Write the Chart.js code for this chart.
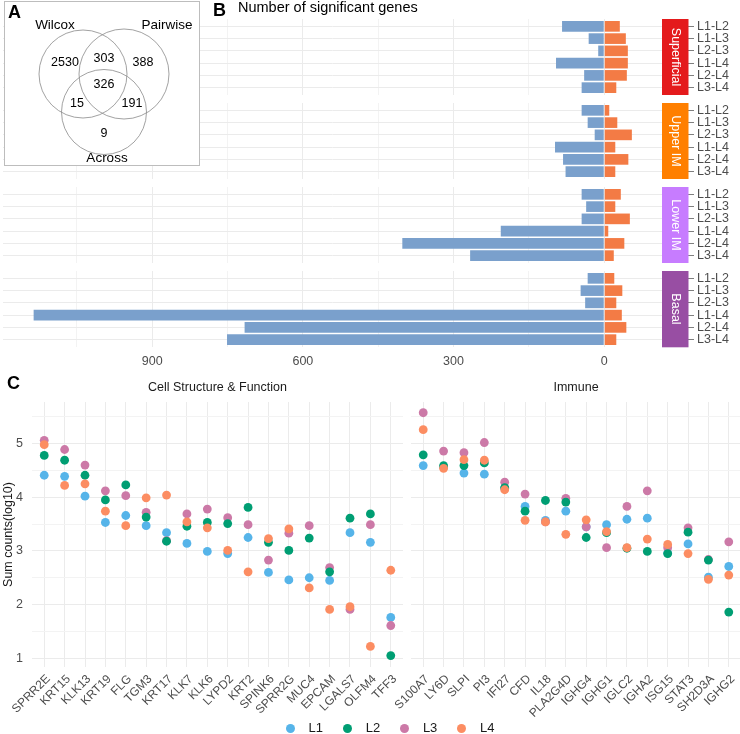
<!DOCTYPE html>
<html>
<head>
<meta charset="utf-8">
<script src="https://cdn.jsdelivr.net/npm/chart.js@4.4.1/dist/chart.umd.min.js"></script>
<style>
html, body { margin: 0; padding: 0; background: #fff; }
#fig { position: relative; width: 740px; height: 734px; overflow: hidden; font-family: "Liberation Sans", Arial, sans-serif; }
#fig canvas { position: absolute; }
.tag { position: absolute; font-weight: bold; font-size: 18px; line-height: 18px; color: #000; }
.ttl { position: absolute; font-size: 14.5px; line-height: 14.5px; color: #000; }
.key { position: absolute; top: 720px; height: 16px; font-size: 13px; line-height: 16px; color: #1a1a1a; white-space: nowrap; }
.key i { display: inline-block; width: 9px; height: 9px; border-radius: 50%; margin-right: 14px; vertical-align: -0.5px; }
</style>
</head>
<body>
<div id="fig">
  <canvas id="facet0"></canvas>
  <canvas id="facet1"></canvas>
  <canvas id="facet2"></canvas>
  <canvas id="facet3"></canvas>
  <canvas id="venn"></canvas>
  <canvas id="dotsCell"></canvas>
  <canvas id="dotsImmune"></canvas>
  <div class="tag" style="left:8px;top:2.5px">A</div>
  <div class="tag" style="left:213px;top:1px">B</div>
  <div class="ttl" style="left:238px;top:0px">Number of significant genes</div>
  <div class="tag" style="left:7px;top:374px">C</div>
  <div id="legend"></div>
</div>
<script>
// ---- data ----
var vennSets = ['Wilcox', 'Pairwise', 'Across'];
var vennCounts = [2530, 303, 388, 326, 15, 191, 9];

var pairs = ['L1-L2', 'L1-L3', 'L2-L3', 'L1-L4', 'L2-L4', 'L3-L4'];
var layers = ['Superficial', 'Upper IM', 'Lower IM', 'Basal'];
var downCounts = [
  [84, 31, 12, 96, 40, 45],
  [45, 33, 19, 98, 82, 77],
  [45, 36, 45, 206, 402, 267],
  [33, 47, 38, 1136, 716, 751]
];
var upCounts = [
  [31, 43, 47, 47, 45, 24],
  [10, 26, 55, 22, 48, 22],
  [33, 22, 51, 8, 40, 19],
  [20, 36, 24, 35, 44, 24]
];

var levels = ['L1', 'L2', 'L3', 'L4'];
var cellGenes = ['SPRR2E', 'KRT15', 'KLK13', 'KRT19', 'FLG', 'TGM3', 'KRT17', 'KLK7', 'KLK6', 'LYPD2',
  'KRT2', 'SPINK6', 'SPRR2G', 'MUC4', 'EPCAM', 'LGALS7', 'OLFM4', 'TFF3'];
var cellL1 = [4.41, 4.39, 4.02, 3.53, 3.66, 3.47, 3.34, 3.14, 2.99, 2.95, 3.25, 2.60, 2.46, 2.50, 2.45, 3.34, 3.16, 1.76];
var cellL2 = [4.78, 4.69, 4.41, 3.95, 4.23, 3.63, 3.18, 3.46, 3.53, 3.51, 3.81, 3.16, 3.01, 3.24, 2.61, 3.61, 3.69, 1.05];
var cellL3 = [5.06, 4.89, 4.60, 4.12, 4.03, 3.72, 3.19, 3.69, 3.78, 3.62, 3.49, 2.83, 3.33, 3.47, 2.69, 1.91, 3.49, 1.61];
var cellL4 = [4.98, 4.22, 4.25, 3.74, 3.47, 3.99, 4.04, 3.54, 3.43, 3.01, 2.61, 3.23, 3.41, 2.31, 1.91, 1.96, 1.22, 2.64];

var immuneGenes = ['S100A7', 'LY6D', 'SLPI', 'PI3', 'IFI27', 'CFD', 'IL18', 'PLA2G4D', 'IGHG4', 'IGHG1',
  'IGLC2', 'IGHA2', 'ISG15', 'STAT3', 'SH2D3A', 'IGHG2'];
var immuneL1 = [4.59, 4.56, 4.45, 4.43, 4.17, 3.83, 3.57, 3.74, 3.45, 3.49, 3.59, 3.61, 2.96, 3.13, 2.51, 2.71];
var immuneL2 = [4.79, 4.59, 4.59, 4.64, 4.18, 3.74, 3.94, 3.91, 3.25, 3.34, 3.05, 2.99, 2.95, 3.35, 2.83, 1.86];
var immuneL3 = [5.575, 4.86, 4.83, 5.02, 4.28, 4.06, 3.54, 3.98, 3.45, 3.06, 3.83, 4.12, 3.06, 3.43, 2.84, 3.17];
var immuneL4 = [5.26, 4.54, 4.70, 4.69, 4.14, 3.57, 3.54, 3.31, 3.58, 3.36, 3.06, 3.22, 3.12, 2.95, 2.47, 2.55];

// ---- style ----
var downColor = '#7AA0CC';
var upColor = '#F37B45';
var stripColors = ['#E41A1C', '#FF7F00', '#C77CFF', '#984EA3'];
var levelColors = ['#56B4E9', '#009E73', '#CC79A7', '#FC8D62'];
var levelOrder = [3, 1, 2, 0];
var gridMajor = '#ebebeb';
var gridMinor = '#f3f3f3';
var textGrey = '#4d4d4d';

Chart.defaults.font.family = '"Liberation Sans", Arial, sans-serif';
Chart.defaults.color = textGrey;
Chart.defaults.animation = false;
Chart.defaults.plugins.legend.display = false;
Chart.defaults.plugins.tooltip.enabled = false;

function fixSize(px) {
  return function (scale) {
    if (scale.isHorizontal()) scale.height = px; else scale.width = px;
    scale.paddingLeft = 0; scale.paddingRight = 0;
    scale.paddingTop = 0; scale.paddingBottom = 0;
  };
}
function setTicks(values) {
  return function (scale) {
    scale.ticks = values.map(function (v) { return { value: v }; });
  };
}
function place(id, x, y, w, h) {
  var c = document.getElementById(id);
  c.width = w; c.height = h;
  c.style.left = x + 'px'; c.style.top = y + 'px';
  return c;
}

// ---- panel A: venn ----
var vennCircles = [[79, 73, 44], [120, 73, 45], [100, 111, 42.5]];
var vennSetPos = [[51, 24], [163, 24], [103, 157]];
var vennCountPos = [[61, 62], [100, 58], [139, 62], [100, 84], [73, 103], [128, 103], [100, 133]];

var vennText = {
  id: 'vennText',
  beforeDraw: function (chart) {
    var ctx = chart.ctx;
    ctx.save();
    ctx.fillStyle = '#fff';
    ctx.fillRect(0, 0, chart.width, chart.height);
    ctx.strokeStyle = '#bdbdbd';
    ctx.lineWidth = 1;
    ctx.strokeRect(0.5, 0.5, chart.width - 1, chart.height - 1);
    ctx.restore();
  },
  afterDraw: function (chart) {
    var ctx = chart.ctx, sx = chart.scales.x, sy = chart.scales.y;
    ctx.save();
    ctx.fillStyle = '#000';
    ctx.textAlign = 'center';
    ctx.textBaseline = 'middle';
    ctx.font = '13.5px "Liberation Sans", Arial, sans-serif';
    vennSets.forEach(function (s, i) {
      ctx.fillText(s, sx.getPixelForValue(vennSetPos[i][0]), sy.getPixelForValue(vennSetPos[i][1]));
    });
    ctx.font = '12.5px "Liberation Sans", Arial, sans-serif';
    vennCounts.forEach(function (n, i) {
      ctx.fillText(String(n), sx.getPixelForValue(vennCountPos[i][0]), sy.getPixelForValue(vennCountPos[i][1]));
    });
    ctx.restore();
  }
};

new Chart(place('venn', 4, 1, 196, 165), {
  type: 'scatter',
  data: {
    datasets: [{
      data: vennCircles.map(function (c) { return { x: c[0], y: c[1] }; }),
      pointRadius: vennCircles.map(function (c) { return c[2]; }),
      backgroundColor: 'rgba(0,0,0,0)',
      borderColor: '#8a8a8a',
      borderWidth: 0.8,
      clip: false
    }]
  },
  options: {
    responsive: false,
    layout: { padding: 0, autoPadding: false },
    scales: {
      x: { type: 'linear', min: 0, max: 196, display: false },
      y: { type: 'linear', min: 0, max: 165, reverse: true, display: false }
    }
  },
  plugins: [vennText]
});

// ---- panel B: facets ----
var stripPlugin = {
  id: 'strip',
  afterDraw: function (chart, args, opts) {
    var a = chart.chartArea, ctx = chart.ctx;
    var top = a.top - 0.3, h = a.bottom - a.top + 0.6;
    ctx.save();
    ctx.fillStyle = opts.color;
    ctx.fillRect(a.right, top, 26.5, h);
    ctx.fillStyle = '#fff';
    ctx.font = '12.5px "Liberation Sans", Arial, sans-serif';
    ctx.textAlign = 'center';
    ctx.textBaseline = 'middle';
    ctx.translate(a.right + 13.25, top + h / 2);
    ctx.rotate(Math.PI / 2);
    ctx.fillText(opts.text, 0, 0);
    ctx.restore();
  }
};

var facetTops = [19, 103, 187, 271];
var facetHeight = 76;
var countTicks = [];
for (var t = -1050; t <= 0; t += 150) countTicks.push(t);

layers.forEach(function (layer, f) {
  var last = f === layers.length - 1;
  var canvas = place('facet' + f, 0, facetTops[f], 740, facetHeight + (last ? 23 : 0));
  new Chart(canvas, {
    type: 'bar',
    data: {
      datasets: [
        {
          label: 'down',
          data: downCounts[f].map(function (v, i) { return { x: -v, y: i }; }),
          backgroundColor: downColor,
          borderWidth: 0
        },
        {
          label: 'up',
          data: upCounts[f].map(function (v, i) { return { x: v, y: i }; }),
          backgroundColor: upColor,
          borderWidth: 0
        }
      ]
    },
    options: {
      indexAxis: 'y',
      responsive: false,
      barPercentage: 0.87,
      categoryPercentage: 1,
      layout: { padding: { left: 3, right: 0, top: 0, bottom: 0 }, autoPadding: false },
      scales: {
        x: {
          type: 'linear', min: -1197, max: 115, stacked: true,
          afterBuildTicks: setTicks(countTicks),
          afterFit: fixSize(last ? 23 : 0),
          ticks: {
            display: last, padding: 7, font: { size: 12.5 }, color: textGrey, autoSkip: false,
            callback: function (v) { return v % 300 === 0 ? String(Math.abs(v)) : ''; }
          },
          grid: {
            drawTicks: false,
            color: function (c) { return c.tick && c.tick.value % 300 === 0 ? gridMajor : gridMinor; }
          },
          border: { display: false }
        },
        y: {
          type: 'linear', position: 'right', reverse: true, min: -0.6, max: 5.6, stacked: true,
          offset: false,
          afterBuildTicks: setTicks([0, 1, 2, 3, 4, 5]),
          afterFit: fixSize(78),
          ticks: {
            padding: 3, font: { size: 12.5 }, color: textGrey, autoSkip: false,
            callback: function (v) { return pairs[v]; }
          },
          grid: { offset: false, color: gridMajor, tickColor: '#7f7f7f', tickLength: 32 },
          border: { display: false }
        }
      },
      plugins: { strip: { text: layer, color: stripColors[f] } }
    },
    plugins: [stripPlugin]
  });
});

// ---- panel C: dot plots ----
var yMinor = [1, 1.5, 2, 2.5, 3, 3.5, 4, 4.5, 5, 5.5];

function dotChart(id, box, axisWidth, genes, series, title, showY) {
  var idx = genes.map(function (g, i) { return i; });
  return new Chart(place(id, box[0], box[1], box[2], box[3]), {
    type: 'scatter',
    data: {
      datasets: levels.map(function (lv, k) {
        return {
          label: lv,
          data: genes.map(function (g, i) { return { x: i, y: series[k][i] }; }),
          backgroundColor: levelColors[k],
          borderWidth: 0,
          pointRadius: 4.4,
          order: levelOrder[k]
        };
      })
    },
    options: {
      responsive: false,
      layout: { padding: 0, autoPadding: false },
      plugins: {
        title: {
          display: true, text: title, fullSize: false,
          padding: { top: 10, bottom: 7 },
          font: { size: 12.5, weight: 'normal' }, color: '#1a1a1a'
        }
      },
      scales: {
        x: {
          type: 'linear', min: -0.6, max: genes.length - 0.4,
          afterBuildTicks: setTicks(idx),
          afterFit: fixSize(67),
          ticks: {
            autoSkip: false, minRotation: 45, maxRotation: 45, padding: 5, labelOffset: 4,
            font: { size: 12 }, color: textGrey,
            callback: function (v) { return genes[v]; }
          },
          grid: { drawTicks: false, color: gridMajor },
          border: { display: false }
        },
        y: {
          type: 'linear', min: 0.837, max: 5.775,
          afterBuildTicks: setTicks(yMinor),
          afterFit: fixSize(axisWidth),
          title: {
            display: showY, text: 'Sum counts(log10)',
            font: { size: 12.5 }, color: '#1a1a1a', padding: { top: 1, bottom: 0 }
          },
          ticks: {
            display: showY, padding: 9, font: { size: 12.5 }, color: textGrey,
            callback: function (v) { return v % 1 === 0 ? String(v) : ''; }
          },
          grid: {
            drawTicks: false,
            color: function (c) { return c.tick && c.tick.value % 1 === 0 ? gridMajor : gridMinor; }
          },
          border: { display: false }
        }
      }
    }
  });
}

dotChart('dotsCell', [0, 370, 403, 364], 32, cellGenes, [cellL1, cellL2, cellL3, cellL4],
  'Cell Structure & Function', true);
dotChart('dotsImmune', [371, 370, 370, 364], 40, immuneGenes, [immuneL1, immuneL2, immuneL3, immuneL4],
  'Immune', false);

// shared legend
var legend = document.getElementById('legend');
levels.forEach(function (lv, k) {
  var item = document.createElement('div');
  item.className = 'key';
  item.style.left = (285.5 + k * 57.2) + 'px';
  item.innerHTML = '<i style="background:' + levelColors[k] + '"></i>' + lv;
  legend.appendChild(item);
});
</script>
</body>
</html>
